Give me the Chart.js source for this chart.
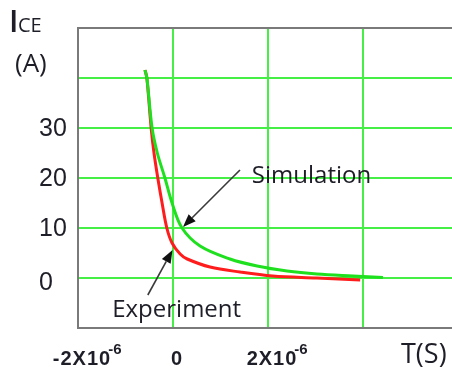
<!DOCTYPE html>
<html>
<head>
<meta charset="utf-8">
<script src="https://cdn.jsdelivr.net/npm/chart.js@4/dist/chart.umd.min.js"></script>
<style>
  html, body { margin: 0; padding: 0; background: #fff; overflow: hidden; }
  #wrap { width: 470px; height: 370px; }
</style>
</head>
<body>
<div id="wrap"><canvas id="c" width="470" height="370"></canvas></div>
<script>
// ---- data (time in microseconds, current in A) ----
const experimentTime = [-0.59, -0.55, -0.46, -0.40, -0.32, -0.23, -0.13, -0.02, 0.15, 0.3, 0.78, 1.41, 2.1, 3.03, 3.94];
const experimentIce  = [41.6, 40, 30, 25, 20, 15, 10, 7.0, 4.8, 3.8, 2.2, 1.2, 0.4, 0, -0.4];
const simulationTime = [-0.59, -0.55, -0.44, -0.33, -0.17, -0.02, 0.19, 0.57, 1.2, 1.77, 2.4, 3.03, 3.79, 4.42];
const simulationIce  = [41.6, 40, 30, 25, 20, 15, 10, 6.4, 3.8, 2.4, 1.4, 0.8, 0.4, 0.1];

const yTickValues = [0, 10, 20, 30];
const xTickValues = [-2, 0, 2];
const xTickMain   = ['-2X10', '0', '2X10'];
const xTickExp    = ['-6', '', '-6'];

// annotations in data units
const annotations = [
  { text: 'Simulation', tx: 1.66, ty: 19.0, from: [1.41, 21.6], to: [0.21, 10.2] },
  { text: 'Experiment', tx: -1.28, ty: -7.8, from: [-0.53, -3.4], to: [-0.01, 5.6] }
];

const toPts = (xs, ys) => xs.map((x, i) => ({ x: x, y: ys[i] }));

const GRID = '#45ef45';
const FRAME = '#7a7a7a';
const TEXT = '#1e1e28';

const drawPlugin = {
  id: 'decor',
  afterDatasetsDraw(chart) {
    const ctx = chart.ctx;
    const xs = chart.scales.x, ys = chart.scales.y;
    ctx.save();
    annotations.forEach(a => {
      const x0 = xs.getPixelForValue(a.from[0]), y0 = ys.getPixelForValue(a.from[1]);
      const x1 = xs.getPixelForValue(a.to[0]), y1 = ys.getPixelForValue(a.to[1]);
      const ang = Math.atan2(y1 - y0, x1 - x0);
      const L = 13, W = 5;
      const bx = x1 - L * Math.cos(ang), by = y1 - L * Math.sin(ang);
      ctx.strokeStyle = '#3a3a3a';
      ctx.lineWidth = 1.6;
      ctx.beginPath(); ctx.moveTo(x0, y0); ctx.lineTo(bx, by); ctx.stroke();
      ctx.fillStyle = '#111';
      ctx.beginPath();
      ctx.moveTo(x1, y1);
      ctx.lineTo(bx + W * Math.sin(ang), by - W * Math.cos(ang));
      ctx.lineTo(bx - W * Math.sin(ang), by + W * Math.cos(ang));
      ctx.closePath(); ctx.fill();
      ctx.fillStyle = TEXT;
      ctx.font = '24px "Open Sans"';
      ctx.textAlign = 'left'; ctx.textBaseline = 'alphabetic';
      ctx.fillText(a.text, xs.getPixelForValue(a.tx), ys.getPixelForValue(a.ty));
    });
    ctx.restore();
  },
  afterDraw(chart) {
    const ctx = chart.ctx;
    const xs = chart.scales.x, ys = chart.scales.y;
    ctx.save();
    ctx.fillStyle = TEXT;
    // y tick labels
    ctx.font = '25px "Liberation Sans"';
    ctx.textAlign = 'left'; ctx.textBaseline = 'middle';
    yTickValues.forEach(v => {
      ctx.fillText(String(v), 39, ys.getPixelForValue(v) + (v === 0 ? 5 : 1));
    });
    // x tick labels with superscript
    xTickValues.forEach((v, i) => {
      const px = xs.getPixelForValue(v);
      ctx.font = 'bold 20px "Liberation Sans"';
      if ('letterSpacing' in ctx) ctx.letterSpacing = '1px';
      ctx.textBaseline = 'alphabetic';
      ctx.textAlign = 'left';
      const wMain = ctx.measureText(xTickMain[i]).width;
      const left = px + 4 - wMain / 2;
      ctx.fillText(xTickMain[i], left, 365);
      if (xTickExp[i]) {
        ctx.font = 'bold 15px "Liberation Sans"';
        if ('letterSpacing' in ctx) ctx.letterSpacing = '0px';
        ctx.fillText(xTickExp[i], left + wMain - 3, 354);
      }
    });
    if ('letterSpacing' in ctx) ctx.letterSpacing = '0px';
    // axis titles
    ctx.textAlign = 'left'; ctx.textBaseline = 'alphabetic';
    ctx.font = '600 31px "Open Sans"';
    ctx.fillText('I', 9, 32);
    ctx.font = '20px "Open Sans"';
    ctx.fillText('CE', 18, 32);
    ctx.font = '26px "Open Sans"';
    ctx.fillText('(A)', 15, 72);
    ctx.font = '27px "Open Sans"';
    ctx.fillText('T(S)', 401, 363);
    ctx.restore();
  }
};

new Chart(document.getElementById('c'), {
  type: 'scatter',
  data: {
    datasets: [
      {
        label: 'Simulation',
        data: toPts(simulationTime, simulationIce),
        showLine: true, borderColor: '#1fe01f', borderWidth: 3,
        pointRadius: 0, tension: 0.35
      },
      {
        label: 'Experiment',
        data: toPts(experimentTime, experimentIce),
        showLine: true, borderColor: '#ff1c1c', borderWidth: 3,
        pointRadius: 0, tension: 0.35
      }
    ]
  },
  options: {
    responsive: false,
    animation: false,
    devicePixelRatio: 1,
    layout: { padding: { left: 78, top: 28, right: 12, bottom: 42 } },
    plugins: { legend: { display: false }, tooltip: { enabled: false } },
    scales: {
      x: {
        type: 'linear', min: -2, max: 6,
        ticks: { stepSize: 2, display: false },
        grid: {
          drawTicks: false, lineWidth: 2,
          color: c => (c.tick && c.tick.value === -2) ? 'rgba(0,0,0,0)' : GRID
        },
        border: { display: true, color: FRAME, width: 2 }
      },
      y: {
        min: -10, max: 50,
        ticks: { stepSize: 10, display: false },
        grid: {
          drawTicks: false, lineWidth: 2,
          color: c => {
            if (!c.tick) return GRID;
            if (c.tick.value === 50) return FRAME;
            if (c.tick.value === -10) return 'rgba(0,0,0,0)';
            return GRID;
          }
        },
        border: { display: true, color: FRAME, width: 2 }
      }
    }
  },
  plugins: [drawPlugin]
});
</script>
</body>
</html>
